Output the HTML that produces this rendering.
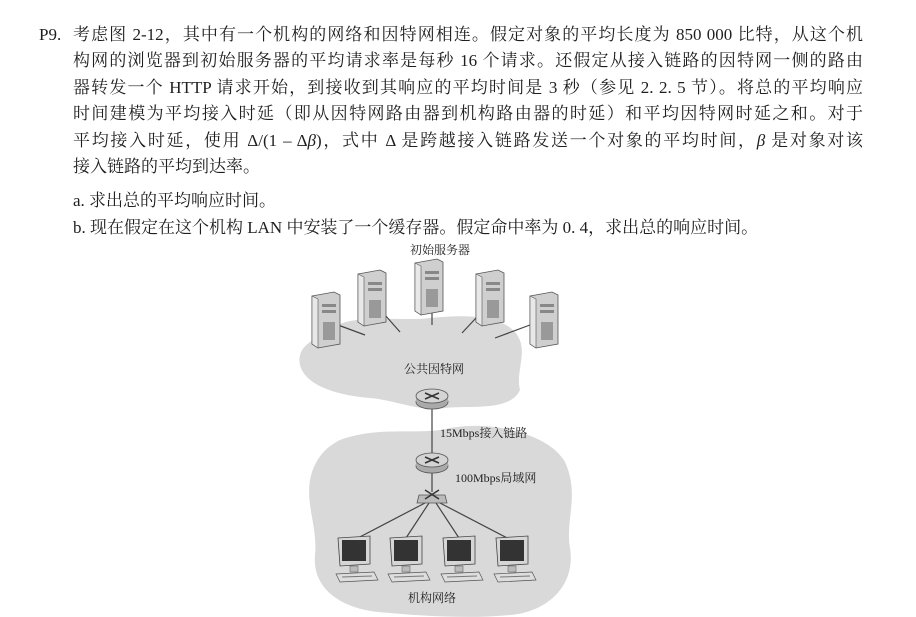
<!DOCTYPE html>
<html><head><meta charset="utf-8"><style>
body{margin:0;width:916px;height:617px;background:#fff;position:relative;overflow:hidden;font-family:"Liberation Serif","Noto Serif CJK SC",serif;color:#1e1e1e}
.l{position:absolute;left:73px;width:790px;font-size:17px;line-height:20px;text-align:justify;text-align-last:justify;white-space:nowrap;height:20px}
.l.n{text-align-last:left}
.p{position:absolute;left:39px;font-size:17px;line-height:20px}
svg{position:absolute;left:0;top:0}
</style></head><body>
<div class="p" style="top:25px">P9.</div>
<div class="l" style="top:25px">考虑图 2-12，其中有一个机构的网络和因特网相连。假定对象的平均长度为 850 000 比特，从这个机</div>
<div class="l" style="top:51px">构网的浏览器到初始服务器的平均请求率是每秒 16 个请求。还假定从接入链路的因特网一侧的路由</div>
<div class="l" style="top:78px">器转发一个 HTTP 请求开始，到接收到其响应的平均时间是 3 秒（参见 2. 2. 5 节）。将总的平均响应</div>
<div class="l" style="top:104px">时间建模为平均接入时延（即从因特网路由器到机构路由器的时延）和平均因特网时延之和。对于</div>
<div class="l" style="top:131px">平均接入时延，使用 Δ/(1 – Δ<i>β</i>)，式中 Δ 是跨越接入链路发送一个对象的平均时间，<i>β</i> 是对象对该</div>
<div class="l n" style="top:157px">接入链路的平均到达率。</div>
<div class="l n" style="top:191px">a. 求出总的平均响应时间。</div>
<div class="l n" style="top:218px">b. 现在假定在这个机构 LAN 中安装了一个缓存器。假定命中率为 0. 4，求出总的响应时间。</div>
<svg width="916" height="617" viewBox="0 0 916 617">
<defs>
<g id="srv"><polygon points="0,4 22,0 28,3 28,52 6,56 0,52" fill="#cfcfcf" stroke="#555" stroke-width="0.8"/><polygon points="0,4 6,7 6,56 0,52" fill="#e8e8e8" stroke="#555" stroke-width="0.6"/><rect x="10" y="12" width="14" height="3" fill="#888"/><rect x="10" y="18" width="14" height="3" fill="#888"/><rect x="11" y="30" width="12" height="18" fill="#999"/></g>
<g id="pc"><polygon points="0,0 32,-2 32,26 2,28" fill="#d6d6d6" stroke="#444" stroke-width="0.8"/><rect x="4" y="2" width="24" height="21" fill="#333"/><rect x="12" y="28" width="8" height="6" fill="#bbb" stroke="#555" stroke-width="0.5"/><polygon points="-2,36 36,34 40,42 2,44" fill="#ddd" stroke="#555" stroke-width="0.7"/><line x1="4" y1="39" x2="34" y2="38" stroke="#777"/></g>
<g id="rt"><ellipse cx="0" cy="4" rx="16" ry="7" fill="#aaa" stroke="#555" stroke-width="0.8"/><rect x="-16" y="-2" width="32" height="6" fill="#aaa"/><ellipse cx="0" cy="-2" rx="16" ry="7" fill="#d4d4d4" stroke="#555" stroke-width="0.8"/><path d="M-7,-5 L7,1 M-7,1 L7,-5" stroke="#333" stroke-width="1.6"/></g>
</defs>
<path d="M330,330 C350,312 400,322 430,318 C470,314 500,316 515,332 C530,350 515,370 520,390 C510,412 470,405 445,408 C420,412 395,400 370,398 C335,395 305,385 300,365 C296,345 315,340 330,330Z" fill="#d9d9d9"/>
<path d="M340,440 C380,425 420,436 450,428 C495,420 550,435 565,462 C580,495 565,520 570,548 C576,585 548,612 510,615 C470,619 420,616 378,612 C340,608 312,588 315,555 C318,525 303,500 312,472 C318,455 328,446 340,440Z" fill="#d9d9d9"/>
<g stroke="#444" stroke-width="1.2">
<line x1="338" y1="325" x2="365" y2="335"/><line x1="385" y1="315" x2="400" y2="332"/><line x1="432" y1="308" x2="432" y2="325"/><line x1="476" y1="318" x2="462" y2="333"/><line x1="530" y1="325" x2="495" y2="338"/>
<line x1="432" y1="402" x2="432" y2="460"/><line x1="432" y1="466" x2="432" y2="492"/>
<line x1="425" y1="503" x2="354" y2="540"/><line x1="429" y1="503" x2="406" y2="538"/><line x1="436" y1="503" x2="459" y2="538"/><line x1="440" y1="503" x2="511" y2="540"/>
</g>
<use href="#srv" x="312" y="292"/><use href="#srv" x="358" y="270"/><use href="#srv" x="415" y="259"/><use href="#srv" x="476" y="270"/><use href="#srv" x="530" y="292"/>
<use href="#rt" x="432" y="398"/><use href="#rt" x="432" y="462"/>
<polygon points="419,495 445,495 447,503 417,503" fill="#bbb" stroke="#555" stroke-width="0.8"/><path d="M425,490 L439,499 M425,499 L439,490" stroke="#333" stroke-width="1.4"/>
<use href="#pc" x="338" y="538"/><use href="#pc" x="390" y="538"/><use href="#pc" x="443" y="538"/><use href="#pc" x="496" y="538"/>
<g font-family="Liberation Serif, Noto Serif CJK SC, serif" font-size="12" fill="#1e1e1e">
<text x="410" y="254">初始服务器</text>
<text x="404" y="373">公共因特网</text>
<text x="440" y="437">15Mbps接入链路</text>
<text x="455" y="482">100Mbps局域网</text>
<text x="408" y="602">机构网络</text>
</g>
</svg>
</body></html>
